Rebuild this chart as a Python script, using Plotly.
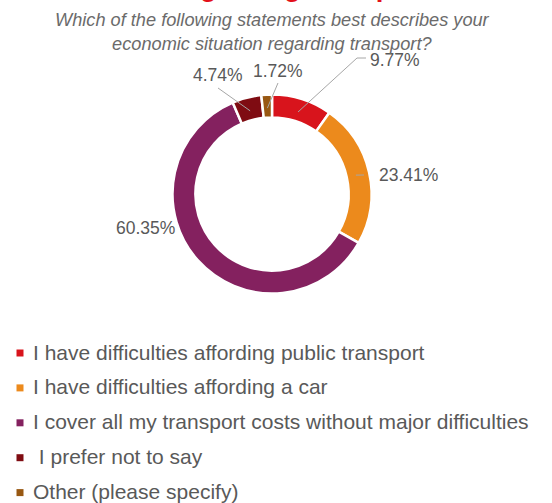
import math
import plotly.graph_objects as go

# ---- data ----
categories = [
    "I have difficulties affording public transport",
    "I have difficulties affording a car",
    "I cover all my transport costs without major difficulties",
    "\u00a0I prefer not to say",
    "Other (please specify)",
]
values = [9.77, 23.41, 60.35, 4.74, 1.72]
value_labels = ["9.77%", "23.41%", "60.35%", "4.74%", "1.72%"]
colors = ["#d8141c", "#ec8a1c", "#84215f", "#7f0c12", "#985812"]

title_text = "regarding transport"
subtitle_text = ("Which of the following statements best describes your<br>"
                 "economic situation regarding transport?")

# ---- layout helpers (pixel -> paper) ----
W, H = 552, 503
def X(px): return px / W
def Y(py): return 1 - py / H

cx, cy, R = 272, 194, 99.5
hole = 0.77

fig = go.Figure()
fig.add_trace(go.Pie(
    labels=categories, values=values, sort=False, direction="clockwise",
    rotation=0, hole=hole, textinfo="none", hoverinfo="skip",
    marker=dict(colors=colors, line=dict(color="white", width=2.5)),
    domain=dict(x=[X(cx - R), X(cx + R)], y=[Y(cy + R), Y(cy - R)]),
    showlegend=False,
))

# label placement (text centre in px, leader end point in px, or None)
label_style = [
    dict(pos=(395, 60), leader=[(357, 58), (366, 58)]),
    dict(pos=(408, 175), leader=[(364, 175)]),
    dict(pos=(145, 228), leader=None),
    dict(pos=(218, 75), leader=[(218, 88)]),
    dict(pos=(278, 71), leader=[(278, 83)]),
]

total = sum(values)
cum = 0.0
annotations = []
shapes = []
for v, lab, st in zip(values, value_labels, label_style):
    mid = (cum + v / 2) / total * 2 * math.pi
    cum += v
    r_in = 86
    sx, sy = cx + r_in * math.sin(mid), cy - r_in * math.cos(mid)
    tx, ty = st["pos"]
    annotations.append(dict(
        x=X(tx), y=Y(ty), xref="paper", yref="paper", text=lab,
        showarrow=False, xanchor="center", yanchor="middle",
        font=dict(size=17.5, color="#595959"),
    ))
    if st["leader"]:
        pts = [(sx, sy)] + st["leader"]
        path = "M " + " L ".join(f"{X(a):.5f},{Y(b):.5f}" for a, b in pts)
        shapes.append(dict(type="path", xref="paper", yref="paper", path=path,
                           line=dict(color="#a6a6a6", width=1)))

# title (cut off at the top) and subtitle
annotations.append(dict(
    x=X(171.6), y=Y(4.5), xref="paper", yref="paper", text="<b>" + title_text + "</b>",
    showarrow=False, xanchor="left", yanchor="bottom",
    font=dict(size=27.5, color="#e3101a"),
))
annotations.append(dict(
    x=X(272.5), y=Y(7.5), xref="paper", yref="paper", text="<i>" + subtitle_text + "</i>",
    showarrow=False, xanchor="center", yanchor="top", align="center",
    font=dict(size=18.2, color="#6b6b6b"),
))

# custom legend
leg_y0, leg_dy = 352, 34.9
for i, (cat, col) in enumerate(zip(categories, colors)):
    yy = leg_y0 + i * leg_dy
    shapes.append(dict(type="rect", xref="paper", yref="paper",
                       x0=X(16.5), x1=X(23.5), y0=Y(yy + 4.5), y1=Y(yy - 2.5),
                       fillcolor=col, line=dict(width=0)))
    annotations.append(dict(
        x=X(30.5), y=Y(yy), xref="paper", yref="paper", text=cat,
        showarrow=False, xanchor="left", yanchor="middle",
        font=dict(size=21, color="#595959"),
    ))

fig.update_layout(
    width=W, height=H, margin=dict(l=0, r=0, t=0, b=0),
    paper_bgcolor="white", plot_bgcolor="white",
    font=dict(family="Liberation Sans, Arial, sans-serif"),
    annotations=annotations, shapes=shapes,
)

fig.write_html("out.html")
